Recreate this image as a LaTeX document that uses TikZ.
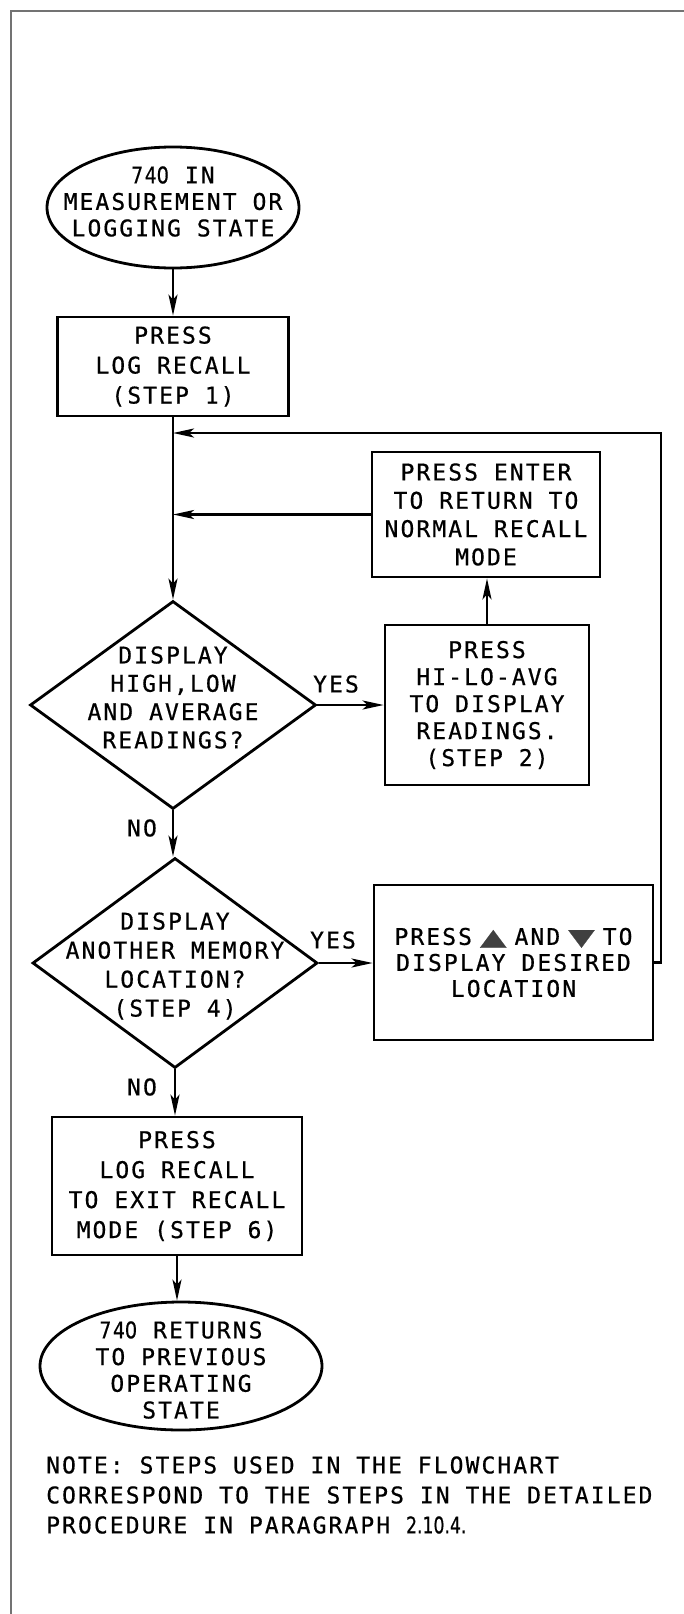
\documentclass[tikz,border=0pt]{standalone}
\usepackage{fontspec}
\usepackage{graphicx}
\usetikzlibrary{shapes.geometric,arrows.meta}
\newfontfamily\plot[LetterSpace=9,FakeBold=0.6]{DejaVu Sans Mono}
\newfontfamily\plotz[LetterSpace=9,FakeBold=0.6]{DejaVu Sans}
\newfontfamily\symf[FakeBold=0.6]{DejaVu Sans}
\newcommand\zz{{\plotz 0}}
\newcommand\sv{\scalebox{0.85}[1]{74\zz}}
\newcommand\tup{\scalebox{1.5}[1]{\textcolor{black!75}{\symf ▲}}}
\newcommand\tdn{\scalebox{1.5}[1]{\textcolor{black!75}{\symf ▼}}}
\begin{document}
\begin{tikzpicture}[x=1pt,y=-1pt,
  ls/.style={font=\plot\fontsize{23}{#1}\selectfont},
  shp/.style={draw, line width=2.8pt, inner sep=0pt, align=center, ls=28},
  proc/.style={shp, rectangle},
  term/.style={shp, ellipse},
  deci/.style={shp, diamond},
  txt/.style={inner sep=0pt, align=center, ls=28},
  conn/.style={line width=2.4pt, -{Stealth[length=21pt,width=9pt,inset=5pt]}},
  frame/.style={draw=black!55, line width=1.3pt}]
\useasboundingbox (0,0) rectangle (684,1614);
\fill[white] (0,0) rectangle (684,1614);
\coordinate (f0) at (11,1614);
\coordinate (f1) at (11,11);
\coordinate (f2) at (684,11);
\draw[frame] (f0) -- (f1) -- (f2);

% shapes
\node[term, minimum width=252pt, minimum height=121pt] (e1) at (173,207.5) {};
\node[txt, ls=26.5] (e1t) at (173,201.5) {{\sv} IN\\MEASUREMENT OR\\LOGGING STATE};
\node[proc, minimum width=231pt, minimum height=99pt, ls=30] (b1) at (173,366.5) {PRESS\\LOG RECALL\\(STEP 1)};
\node[proc, minimum width=228pt, minimum height=125pt, ls=28.3] (b2) at (486,514.5) {PRESS ENTER\\TO RETURN TO\\NORMAL RECALL\\MODE};
\node[proc, minimum width=204pt, minimum height=160pt, ls=27] (b3) at (487,705) {PRESS\\HI-LO-AVG\\TO DISPLAY\\READINGS.\\(STEP 2)};
\node[deci, minimum width=286pt, minimum height=208pt] (d1) at (173,705) {};
\node[txt, ls=28.3] (d1t) at (173,697.5) {DISPLAY\\HIGH,LOW\\AND AVERAGE\\READINGS?};
\node[deci, minimum width=285pt, minimum height=210pt] (d2) at (175,963) {};
\node[txt, ls=29] (d2t) at (175,966) {DISPLAY\\ANOTHER MEMORY\\LOCATION?\\(STEP 4)};
\node[proc, minimum width=279pt, minimum height=155pt, ls=26] (b5) at (513.5,962.5) {PRESS\hspace{8pt}\tup\hspace{8pt}AND\hspace{8pt}\tdn\hspace{8pt}TO\\DISPLAY DESIRED\\LOCATION};
\node[proc, minimum width=250pt, minimum height=138pt, ls=30] (b4) at (177,1186) {PRESS\\LOG RECALL\\TO EXIT RECALL\\MODE (STEP 6)};
\node[term, minimum width=282pt, minimum height=128pt] (e2) at (181,1366) {};
\node[txt, ls=26.7] (e2t) at (181,1370) {{\sv} RETURNS\\TO PREVIOUS\\OPERATING\\STATE};

% labels
\node[txt] (y1) at (336,684) {YES};
\node[txt] (y2) at (333,940) {YES};
\node[txt] (n1) at (142,828) {NO};
\node[txt] (n2) at (142,1087) {NO};

\node[txt, align=left, anchor=west, ls=30] (note) at (46,1495)
  {NOTE: STEPS USED IN THE FLOWCHART\\CORRESPOND TO THE STEPS IN THE DETAILED\\PROCEDURE IN PARAGRAPH \scalebox{0.75}[1]{\symf 2.10.4.}};

% connectors
\coordinate (j1) at (173,433);
\coordinate (cr) at (661,433);
\draw[conn] (e1.south) -- (b1.north);
\draw[conn] (b1.south) -- (d1.north);
\draw[conn] (b2.west) -- (b2.west -| j1);
\draw[conn] (b3.north) -- (b3.north |- b2.south);
\draw[conn] (d1.east) -- (b3.west);
\draw[conn] (d1.south) -- (d1.south |- d2.north);
\draw[conn] (d2.east) -- (d2.east -| b5.west);
\draw[conn] (d2.south) -- (d2.south |- b4.north);
\draw[conn] (b4.south) -- (b4.south |- e2.north);
\draw[conn] (b5.east) -| (cr) -- (j1);
\end{tikzpicture}
\end{document}
